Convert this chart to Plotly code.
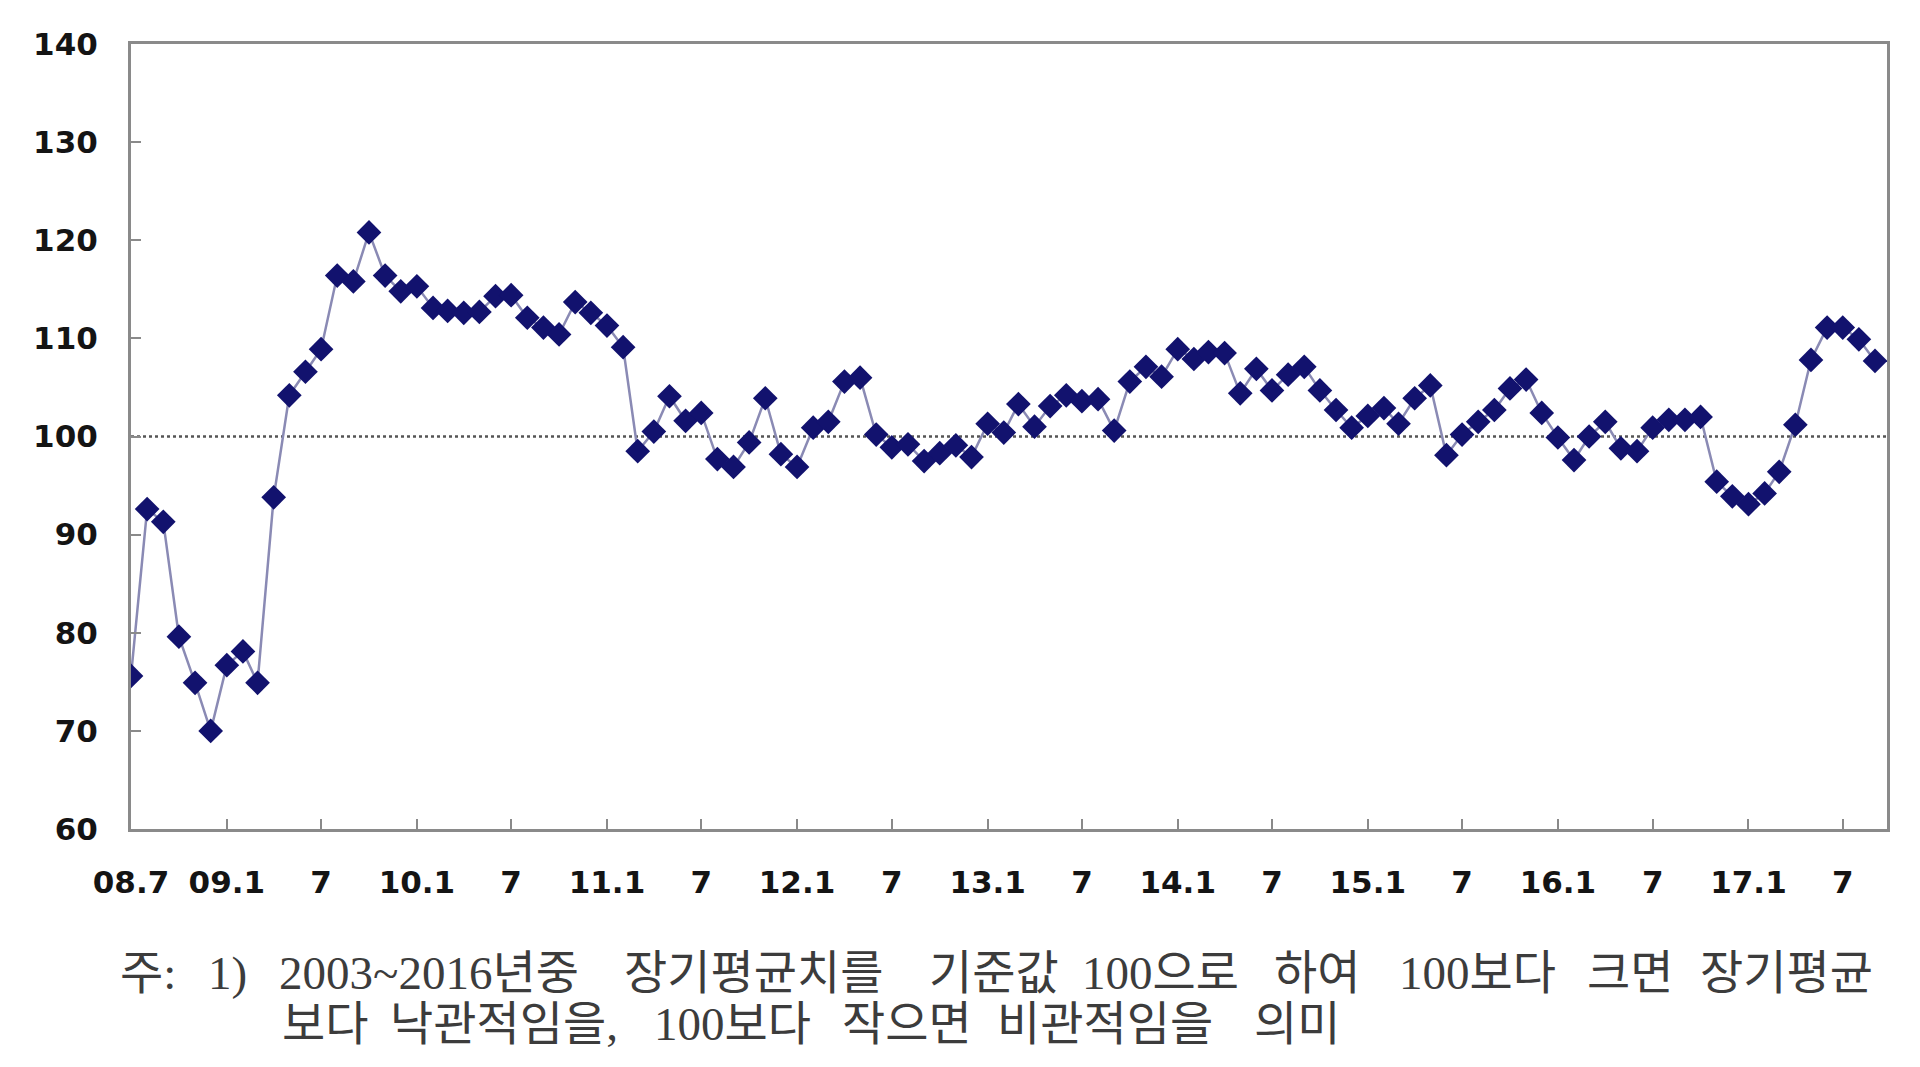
import pandas as pd
import plotly.graph_objects as go

# monthly index, 2008.7 ~ 2017.9 (long-run average 2003~2016 = 100)
start_month = "2008-07"
index_values = [
    75.6, 92.6, 91.3, 79.6, 74.9, 70.0,                     # 08.7 - 08.12
    76.7, 78.1, 74.9, 93.8, 104.2, 106.6,                   # 09.1 - 09.6
    108.9, 116.4, 115.8, 120.8, 116.4, 114.8,               # 09.7 - 09.12
    115.3, 113.1, 112.8, 112.6, 112.7, 114.3,               # 10.1 - 10.6
    114.4, 112.1, 111.1, 110.4, 113.7, 112.6,               # 10.7 - 10.12
    111.3, 109.1, 98.5, 100.5, 104.1, 101.6,                # 11.1 - 11.6
    102.4, 97.7, 96.9, 99.4, 103.9, 98.2,                   # 11.7 - 11.12
    96.9, 100.9, 101.5, 105.6, 106.0, 100.2,                # 12.1 - 12.6
    98.9, 99.2, 97.5, 98.3, 99.1, 97.9,                     # 12.7 - 12.12
    101.3, 100.4, 103.3, 101.0, 103.1, 104.2,               # 13.1 - 13.6
    103.6, 103.8, 100.6, 105.6, 107.1, 106.1,               # 13.7 - 13.12
    108.9, 107.9, 108.6, 108.5, 104.4, 106.9,               # 14.1 - 14.6
    104.7, 106.3, 107.1, 104.7, 102.7, 100.9,               # 14.7 - 14.12
    102.1, 102.9, 101.3, 103.9, 105.2, 98.1,                # 15.1 - 15.6
    100.2, 101.5, 102.7, 104.9, 105.8, 102.4,               # 15.7 - 15.12
    99.9, 97.6, 100.0, 101.5, 98.8, 98.5,                   # 16.1 - 16.6
    100.9, 101.7, 101.7, 102.0, 95.4, 93.9,                 # 16.7 - 16.12
    93.1, 94.2, 96.4, 101.2, 107.8, 111.1,                  # 17.1 - 17.6
    111.1, 109.9, 107.7,                                    # 17.7 - 17.9
]
months = pd.date_range(start_month, periods=len(index_values), freq="MS")

tick_dates = ["2008-07-01", "2009-01-01", "2009-07-01", "2010-01-01", "2010-07-01",
              "2011-01-01", "2011-07-01", "2012-01-01", "2012-07-01", "2013-01-01",
              "2013-07-01", "2014-01-01", "2014-07-01", "2015-01-01", "2015-07-01",
              "2016-01-01", "2016-07-01", "2017-01-01", "2017-07-01"]
tick_text = ["08.7", "09.1", "7", "10.1", "7", "11.1", "7", "12.1", "7", "13.1",
             "7", "14.1", "7", "15.1", "7", "16.1", "7", "17.1", "7"]
y_ticks = [60, 70, 80, 90, 100, 110, 120, 130, 140]
base_value = 100

note_line1 = ["주:", "1)", "2003~2016년중", "장기평균치를", "기준값", "100으로",
              "하여", "100보다", "크면", "장기평균"]
note_line2 = ["보다", "낙관적임을,", "100보다", "작으면", "비관적임을", "의미"]

# page pixel geometry (body margin of 8px is taken into account)
PAGE_OFF = 8
PLOT_L, PLOT_R, PLOT_T, PLOT_B = 131, 1887, 44, 829
PLOT_W, PLOT_H = PLOT_R - PLOT_L, PLOT_B - PLOT_T
FIG_W, FIG_H = 1920 - 2 * PAGE_OFF, 1067 - 2 * PAGE_OFF

fig = go.Figure()

fig.add_trace(go.Scatter(
    x=months, y=index_values, mode="lines+markers",
    line=dict(color="#8a8ab4", width=2.5),
    marker=dict(symbol="diamond", size=19, color="#12126e",
                line=dict(width=0)),
    showlegend=False,
))

fig.add_hline(y=base_value, line=dict(color="#555555", width=2.5, dash="dot"),
              layer="below")

axis_common = dict(showline=True, mirror=True, linecolor="#8a8a8a", linewidth=3,
                   showgrid=False, zeroline=False, ticks="inside", ticklen=10,
                   tickwidth=2, tickcolor="#8a8a8a",
                   tickfont=dict(family="DejaVu Sans", size=31, color="#141414",
                                 weight="bold"))

fig.update_xaxes(type="date", range=[months[0], pd.Timestamp("2017-09-24")],
                 tickmode="array", tickvals=tick_dates, ticktext=tick_text,
                 ticklabelstandoff=24, **axis_common)
fig.update_yaxes(range=[60, 140], tickmode="array", tickvals=y_ticks,
                 ticklabelstandoff=24, **axis_common)


def px_to_paper(px, py):
    return (px - PLOT_L) / PLOT_W, (PLOT_B - py) / PLOT_H


note_font = dict(family="Liberation Serif, Noto Sans CJK KR", size=47, color="#3c3c3c")
line1_x = [118, 206, 277, 622, 927, 1080, 1272, 1397, 1585, 1698]
line2_x = [280, 388, 652, 840, 995, 1252]
for words, xs, py in [(note_line1, line1_x, 973), (note_line2, line2_x, 1024)]:
    for w, px in zip(words, xs):
        ax, ay = px_to_paper(px, py)
        fig.add_annotation(text=w, x=ax, y=ay, xref="paper", yref="paper",
                           xanchor="left", yanchor="middle", showarrow=False,
                           font=note_font)

fig.update_layout(
    width=FIG_W, height=FIG_H,
    margin=dict(l=PLOT_L - PAGE_OFF, r=FIG_W - (PLOT_R - PAGE_OFF),
                t=PLOT_T - PAGE_OFF, b=FIG_H - (PLOT_B - PAGE_OFF)),
    paper_bgcolor="white", plot_bgcolor="white",
)

fig.write_html("out.html")
